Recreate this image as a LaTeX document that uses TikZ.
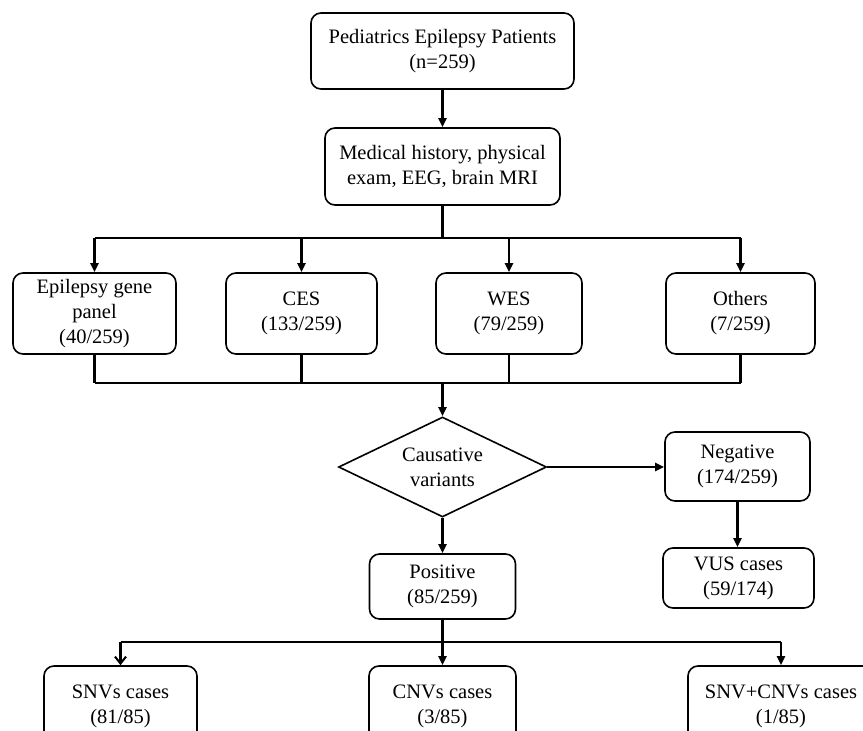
\documentclass[tikz,border=0pt]{standalone}
\usepackage{fontspec}
\setmainfont{Liberation Serif}
\usetikzlibrary{arrows.meta,shapes.geometric}
\newcommand\myfs{\fontsize{20.5pt}{25pt}\selectfont}
\tikzset{
  box/.style={draw, rounded corners=10pt, align=center, inner sep=0pt, line width=1.6pt, font=\myfs},
  conn/.style={line width=2.1pt},
  arr/.style={conn, -{Triangle[length=9pt,width=8pt]}},
  barb/.style={conn, -{Straight Barb[length=7pt,width=11pt,line width=2pt]}},
  dia/.style={draw, diamond, aspect=2.08, inner sep=0pt, line width=1.6pt, align=center, font=\myfs}
}
\begin{document}
\begin{tikzpicture}[x=1pt,y=-1pt]
\useasboundingbox (0,0) rectangle (863,731);
\clip (0,0) rectangle (863,731);
\fill[white] (0,0) rectangle (863,731);

\node[box, minimum width=263pt, minimum height=76pt] (top) at (442.5,51) {Pediatrics Epilepsy Patients\\(n=259)};
\node[box, minimum width=235pt, minimum height=77pt] (med) at (442.5,166.5) {Medical history, physical\\exam, EEG, brain MRI};

\node[box, minimum width=163pt, minimum height=81pt] (gene) at (94.5,313.5) {Epilepsy gene\\panel\\(40/259)};
\node[box, minimum width=151pt, minimum height=81pt] (ces) at (301.5,313.5) {CES\\(133/259)};
\node[box, minimum width=146pt, minimum height=81pt] (wes) at (509,313.5) {WES\\(79/259)};
\node[box, minimum width=149pt, minimum height=81pt] (oth) at (740.5,313.5) {Others\\(7/259)};

\node[dia, minimum width=208pt, minimum height=100pt] (cv) at (442.5,467) {Causative\\variants};
\node[box, minimum width=145pt, minimum height=69pt] (neg) at (737.5,466.5) {Negative\\(174/259)};
\node[box, minimum width=151pt, minimum height=60pt] (vus) at (738.5,578) {VUS cases\\(59/174)};
\node[box, minimum width=146pt, minimum height=65pt] (pos) at (442.5,586.5) {Positive\\(85/259)};

\node[box, minimum width=153pt, minimum height=80pt] (snv) at (120.5,706) {SNVs cases\\(81/85)};
\node[box, minimum width=147pt, minimum height=80pt] (cnv) at (442.5,706) {CNVs cases\\(3/85)};
\node[box, minimum width=186pt, minimum height=80pt] (both) at (781,706) {SNV+CNVs cases\\(1/85)};

\coordinate (bus1) at (442.5,238);
\coordinate (bus2) at (442.5,383);
\coordinate (bus3) at (442.5,642);

% top to med
\draw[arr] (top.south) -- (med.north);
% split to four tests
\draw[conn] (med.south) -- (bus1);
\draw[conn] (gene.north |- bus1) -- (oth.north |- bus1);
\draw[arr] (gene.north |- bus1) -- (gene.north);
\draw[arr] (ces.north |- bus1) -- (ces.north);
\draw[arr] (wes.north |- bus1) -- (wes.north);
\draw[arr] (oth.north |- bus1) -- (oth.north);
% merge
\draw[conn] (gene.south) -- (gene.south |- bus2);
\draw[conn] (ces.south) -- (ces.south |- bus2);
\draw[conn] (wes.south) -- (wes.south |- bus2);
\draw[conn] (oth.south) -- (oth.south |- bus2);
\draw[conn] (gene.south |- bus2) -- (oth.south |- bus2);
\draw[arr] (bus2) -- (cv.north);
% decision
\draw[arr] (cv.east) -- (neg.west |- cv.east);
\draw[arr] (neg.south) -- (neg.south |- vus.north);
\draw[arr] (cv.south) -- (pos.north);
% positive split
\draw[conn] (pos.south) -- (bus3);
\draw[conn] (snv.north |- bus3) -- (both.north |- bus3);
\draw[barb] (snv.north |- bus3) -- (snv.north);
\draw[arr] (cnv.north |- bus3) -- (cnv.north);
\draw[arr] (both.north |- bus3) -- (both.north);
\end{tikzpicture}
\end{document}
